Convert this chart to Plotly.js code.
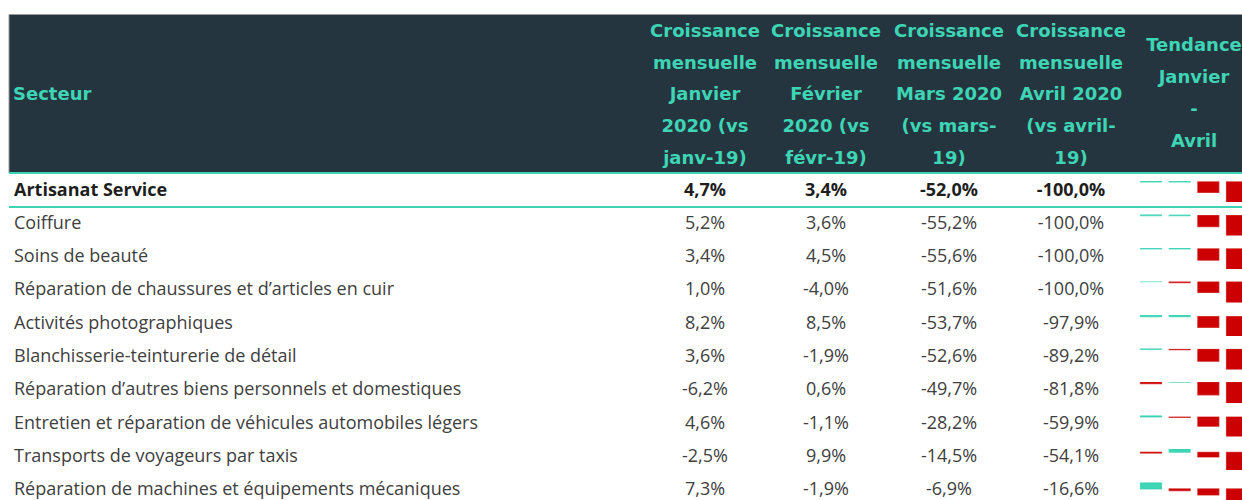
<!DOCTYPE html>
<html>
<head>
<meta charset="utf-8">
<script src="https://cdn.plot.ly/plotly-3.0.1.min.js"></script>
<style>html,body{margin:0;padding:0;background:#fff;}#chart{width:1242px;height:500px;}</style>
</head>
<body>
<div id="chart"></div>
<script>
// ---------- DATA ----------
var secteurs = [
  "Artisanat Service",
  "Coiffure",
  "Soins de beauté",
  "Réparation de chaussures et d’articles en cuir",
  "Activités photographiques",
  "Blanchisserie-teinturerie de détail",
  "Réparation d’autres biens personnels et domestiques",
  "Entretien et réparation de véhicules automobiles légers",
  "Transports de voyageurs par taxis",
  "Réparation de machines et équipements mécaniques"
];
var janvier = [4.7, 5.2, 3.4, 1.0, 8.2, 3.6, -6.2, 4.6, -2.5, 7.3];
var fevrier = [3.4, 3.6, 4.5, -4.0, 8.5, -1.9, 0.6, -1.1, 9.9, -1.9];
var mars    = [-52.0, -55.2, -55.6, -51.6, -53.7, -52.6, -49.7, -28.2, -14.5, -6.9];
var avril   = [-100.0, -100.0, -100.0, -100.0, -97.9, -89.2, -81.8, -59.9, -54.1, -16.6];

var headerSecteur = "Secteur";
var headerJan = ["Croissance", "mensuelle", "Janvier", "2020 (vs", "janv-19)"];
var headerFev = ["Croissance", "mensuelle", "Février", "2020 (vs", "févr-19)"];
var headerMar = ["Croissance", "mensuelle", "Mars 2020", "(vs mars-", "19)"];
var headerAvr = ["Croissance", "mensuelle", "Avril 2020", "(vs avril-", "19)"];
var headerTendance = ["Tendance", "Janvier", "-", "Avril"];

// ---------- LAYOUT CONSTANTS ----------
var W = 1242, H = 500;
var TEAL = "#3dd5b4", RED = "#cc0000", NAVY = "#243540";
var BODY_FONT = "'Open Sans', Lato, sans-serif";
var HEAD_FONT = "'DejaVu Sans', 'Open Sans', sans-serif";
var BODY_SIZE = 18, HEAD_SIZE = 18;
var LEFT_X = 14;
var COL_X = [705, 826, 949, 1071];
var TEND_X = 1194;
var ROW_Y0 = 191, ROW_STEP = 33.3;
var HEAD_Y0 = 32.5, HEAD_STEP = 31.7;
var TEND_Y0 = 46.5, TEND_STEP = 32;
var HEAD_TOP = 14.5, HEAD_BOT = 173, HEAD_LEFT = 9;
var SEP_Y = 207;
var BAR_Y0 = 191.5, BAR_STEP = 33.5, BAR_H = 21;
var BAR_X_LEFT = 1137, BAR_C0 = 1151, BAR_PITCH = 28.67, BAR_W_PX = 21;

function fmt(v) { return v.toFixed(1).replace(".", ",") + "%"; }
function rowY(i) { return ROW_Y0 + i * ROW_STEP; }

(function () {
  var traces = [];
  var n = secteurs.length;
  var cols = [janvier, fevrier, mars, avril];
  var heads = [headerJan, headerFev, headerMar, headerAvr];
  var headFont = { family: HEAD_FONT, size: HEAD_SIZE, color: TEAL, weight: "bold" };

  heads.forEach(function (lines, c) {
    traces.push({
      type: "scatter", mode: "text", xaxis: "x", yaxis: "y",
      x: lines.map(function () { return COL_X[c]; }),
      y: lines.map(function (_, j) { return HEAD_Y0 + j * HEAD_STEP; }),
      text: lines, textposition: "middle center", cliponaxis: false,
      textfont: headFont, hoverinfo: "skip", showlegend: false
    });
  });
  traces.push({
    type: "scatter", mode: "text", xaxis: "x", yaxis: "y",
    x: headerTendance.map(function () { return TEND_X; }),
    y: headerTendance.map(function (_, j) { return TEND_Y0 + j * TEND_STEP; }),
    text: headerTendance, textposition: "middle center", cliponaxis: false,
    textfont: headFont, hoverinfo: "skip", showlegend: false
  });
  traces.push({
    type: "scatter", mode: "text", xaxis: "x", yaxis: "y",
    x: [LEFT_X - 1], y: [HEAD_Y0 + 2 * HEAD_STEP], text: [headerSecteur], textposition: "middle right",
    textfont: headFont, hoverinfo: "skip", showlegend: false, cliponaxis: false
  });

  var colorsBody = secteurs.map(function (_, i) { return i === 0 ? "#1e1e1e" : "#404040"; });
  traces.push({
    type: "scatter", mode: "text", xaxis: "x", yaxis: "y",
    x: secteurs.map(function () { return LEFT_X; }),
    y: secteurs.map(function (_, i) { return rowY(i); }),
    text: secteurs.map(function (s, i) { return i === 0 ? "<b>" + s + "</b>" : s; }),
    textposition: "middle right", cliponaxis: false,
    textfont: { family: BODY_FONT, size: BODY_SIZE, color: colorsBody },
    hoverinfo: "skip", showlegend: false
  });

  cols.forEach(function (vals, c) {
    traces.push({
      type: "scatter", mode: "text", xaxis: "x", yaxis: "y",
      x: vals.map(function () { return COL_X[c]; }),
      y: vals.map(function (_, i) { return rowY(i); }),
      text: vals.map(function (v, i) { return i === 0 ? "<b>" + fmt(v) + "</b>" : fmt(v); }),
      textposition: "middle center", cliponaxis: false,
      textfont: { family: BODY_FONT, size: BODY_SIZE, color: colorsBody },
      hoverinfo: "skip", showlegend: false
    });
  });

  var layout = {
    width: W, height: H,
    margin: { l: 0, r: 0, t: 0, b: 0, pad: 0 },
    paper_bgcolor: "#ffffff", plot_bgcolor: "rgba(0,0,0,0)",
    showlegend: false,
    xaxis: { domain: [0, 1], range: [0, W], visible: false, fixedrange: true },
    yaxis: { domain: [0, 1], range: [H, 0], visible: false, fixedrange: true },
    shapes: [
      { type: "rect", xref: "x", yref: "y", x0: HEAD_LEFT, x1: W, y0: HEAD_TOP, y1: HEAD_BOT, fillcolor: NAVY, line: { width: 0 }, layer: "below" },
      { type: "line", xref: "x", yref: "y", x0: HEAD_LEFT, x1: W, y0: HEAD_TOP, y1: HEAD_TOP, line: { color: "#9a9a9a", width: 1 } },
      { type: "line", xref: "x", yref: "y", x0: HEAD_LEFT, x1: HEAD_LEFT, y0: HEAD_TOP, y1: HEAD_BOT, line: { color: "#9a9a9a", width: 1 } },
      { type: "line", xref: "x", yref: "y", x0: HEAD_LEFT, x1: W, y0: HEAD_BOT, y1: HEAD_BOT, line: { color: TEAL, width: 2 } },
      { type: "line", xref: "x", yref: "y", x0: HEAD_LEFT, x1: W, y0: SEP_Y, y1: SEP_Y, line: { color: TEAL, width: 2 } }
    ]
  };

  var xr0 = (BAR_X_LEFT - BAR_C0) / BAR_PITCH;
  var xr1 = (W - BAR_C0) / BAR_PITCH;
  for (var i = 0; i < n; i++) {
    var rowVals = [janvier[i], fevrier[i], mars[i], avril[i]];
    var vmax = Math.max(0, Math.max.apply(null, rowVals));
    var vmin = Math.min(0, Math.min.apply(null, rowVals));
    var pxPer = BAR_H / (vmax - vmin);
    var yTop = BAR_Y0 + i * BAR_STEP - BAR_H / 2;
    var yBot = yTop + BAR_H;
    if (yBot > H) { yBot = H; vmin = vmax - (yBot - yTop) / pxPer; }
    var id = i + 2;
    traces.push({
      type: "bar", xaxis: "x" + id, yaxis: "y" + id,
      x: [0, 1, 2, 3], y: rowVals, width: BAR_W_PX / BAR_PITCH,
      marker: {
        color: rowVals.map(function (v) { return v >= 0 ? TEAL : RED; }),
        line: { color: rowVals.map(function (v) { return v >= 0 ? "rgba(61,213,180,0.8)" : "rgba(204,0,0,0.7)"; }), width: 1.2 }
      },
      hoverinfo: "skip", showlegend: false
    });
    layout["xaxis" + id] = { domain: [BAR_X_LEFT / W, 1], range: [xr0, xr1], visible: false, fixedrange: true, anchor: "y" + id };
    layout["yaxis" + id] = { domain: [1 - yBot / H, 1 - yTop / H], range: [vmin, vmax], visible: false, fixedrange: true, anchor: "x" + id };
  }

  Plotly.newPlot("chart", traces, layout, { displayModeBar: false, staticPlot: true });
})();
</script>
</body>
</html>
